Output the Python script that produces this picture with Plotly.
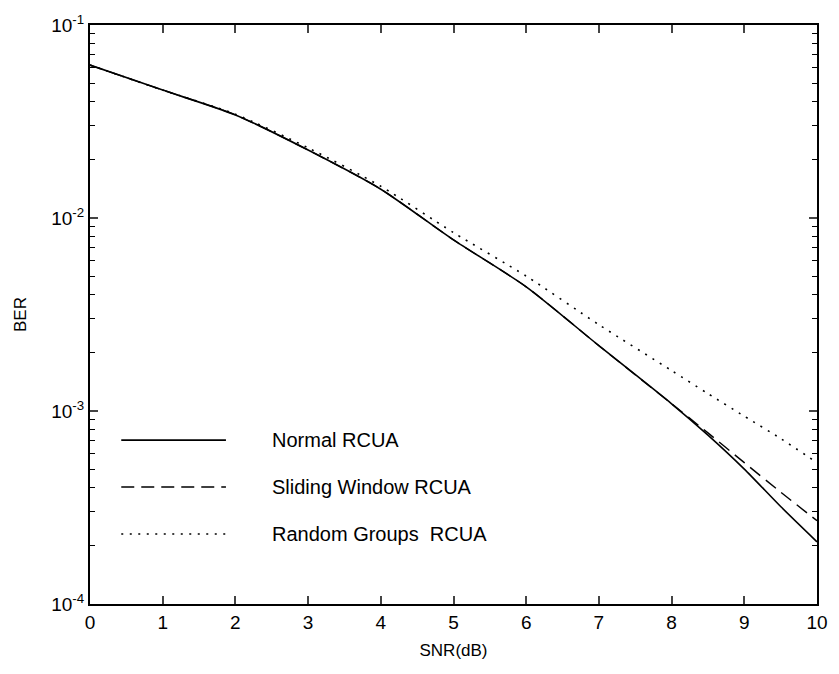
import plotly.graph_objects as go

snr = [0, 1, 2, 3, 4, 5, 6, 7, 8, 8.5, 9, 9.5, 10]
ber_normal = [0.062, 0.046, 0.0342, 0.0225, 0.0141, 0.0077, 0.0044, 0.00218, 0.00109, 0.00075, 0.00050, 0.00032, 0.00021]
ber_sliding = [0.062, 0.046, 0.0342, 0.0225, 0.0141, 0.0077, 0.0044, 0.00218, 0.00109, 0.00077, 0.00054, 0.00038, 0.00027]
ber_random = [0.062, 0.046, 0.0345, 0.0231, 0.0146, 0.0084, 0.0050, 0.0028, 0.00162, 0.00123, 0.00094, 0.00072, 0.00054]

series_names = ["Normal RCUA", "Sliding Window RCUA", "Random Groups  RCUA"]
x_ticks = list(range(11))
y_tickvals = [1e-4, 1e-3, 1e-2, 1e-1]
y_ticktext = ["10<sup>-4</sup>", "10<sup>-3</sup>", "10<sup>-2</sup>", "10<sup>-1</sup>"]
minor_vals = [m * 10.0 ** e for e in (-4, -3, -2) for m in range(2, 10)]

styles = [
    dict(color="black", width=1.6, dash="solid"),
    dict(color="black", width=1.4, dash="13px,7px"),
    dict(color="black", width=1.6, dash="2px,6.5px"),
]

fig = go.Figure()
for name, ys, st in zip(series_names, [ber_normal, ber_sliding, ber_random], styles):
    fig.add_trace(go.Scatter(x=snr, y=ys, mode="lines", name=name,
                             line=dict(st, shape="spline", smoothing=0.7), showlegend=False))

# invisible helper trace so the right-hand tick axis is drawn
fig.add_trace(go.Scatter(x=snr[:2], y=ber_normal[:2], yaxis="y2", mode="lines",
                         line=dict(width=0), opacity=0, showlegend=False, hoverinfo="skip"))

# manual legend (MATLAB style: long line samples, no box)
leg_y = [0.283, 0.202, 0.121]
for name, st, yy in zip(series_names, styles, leg_y):
    fig.add_shape(type="line", xref="paper", yref="paper", x0=0.043, x1=0.187, y0=yy, y1=yy,
                  line=st)
    fig.add_annotation(xref="paper", yref="paper", x=0.247, y=yy, text=name, showarrow=False,
                       xanchor="left", yanchor="middle",
                       font=dict(family="Liberation Sans, Arial", size=20, color="black"))

fig.update_layout(
    width=839, height=674,
    margin=dict(l=90, r=11, t=25, b=70),
    paper_bgcolor="white", plot_bgcolor="white",
    font=dict(family="Liberation Sans, Arial", size=19, color="black"),
    xaxis=dict(
        range=[0, 10], tickvals=x_ticks, ticks="inside", ticklen=8, tickwidth=1.5,
        showline=True, linecolor="black", linewidth=2, mirror="ticks",
        showgrid=False, zeroline=False,
        title=dict(text="SNR(dB)", font=dict(size=17), standoff=12),
    ),
    yaxis=dict(
        type="log", range=[-4, -1], tickvals=y_tickvals, ticktext=y_ticktext,
        ticks="inside", ticklen=8, tickwidth=1.5,
        minor=dict(tickvals=minor_vals, ticks="inside", ticklen=5, tickwidth=1.2, tickcolor="black"),
        showline=True, linecolor="black", linewidth=2, mirror="ticks",
        showgrid=False, zeroline=False,
        title=dict(text="BER", font=dict(size=17), standoff=20),
    ),
    yaxis2=dict(
        type="log", range=[-4, -1], overlaying="y", side="right",
        tickvals=y_tickvals, showticklabels=False,
        ticks="inside", ticklen=8, tickwidth=1.5,
        minor=dict(tickvals=minor_vals, ticks="inside", ticklen=5, tickwidth=1.2, tickcolor="black"),
        showline=False, showgrid=False, zeroline=False,
    ),
)

fig.write_html("out.html")
